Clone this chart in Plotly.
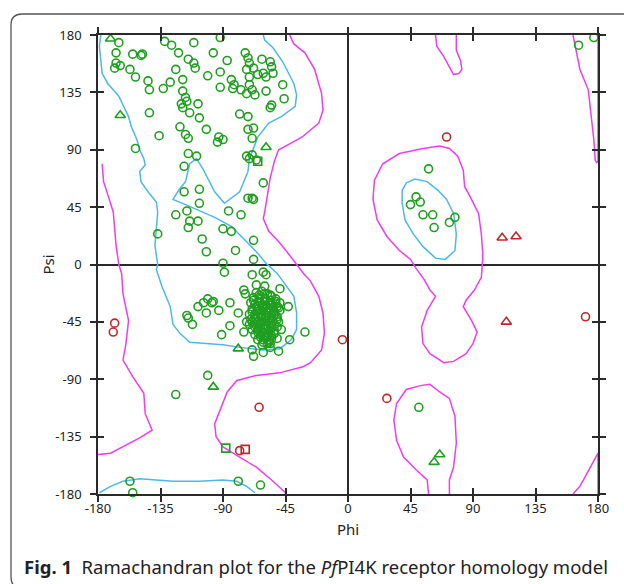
import plotly.graph_objects as go

# ---------------- data ----------------
tick_vals = [-180, -135, -90, -45, 0, 45, 90, 135, 180]
tick_text = ["-180", "-135", "-90", "-45", "0", "45", "90", "135", "180"]

# core region contours (light blue)
core_main_phi = [-61, -60, -54, -47, -39, -37, -38, -48, -57, -65, -67, -71, -72, -78, -89, -96, -104, -109,
                 -114, -117, -122, -126, -117, -105, -96, -84, -74, -66, -59, -51, -45, -39, -37, -37, -41,
                 -49, -61, -78, -90, -104, -114, -121, -126, -128, -134, -138, -137, -139, -138, -137, -138,
                 -144, -149, -150, -146, -147, -150, -152, -156, -158, -165, -173, -177, -179, -178]
core_main_psi = [180, 176, 170, 159, 142, 133, 124, 116, 111, 100, 94, 83, 73, 57, 48, 57, 74, 83,
                 79, 65, 58, 51, 47, 41, 37, 30, 19, 10, 1, -7, -16, -25, -38, -51, -59,
                 -66, -67, -65, -63, -62, -61, -54, -47, -33, -17, -4, 0, 15, 28, 41, 49,
                 57, 65, 73, 78, 83, 90, 98, 108, 116, 132, 142, 150, 171, 180]
core_bottom_phi = [-179, -171, -162, -150, -126, -107, -90, -80, -73, -67]
core_bottom_psi = [-179, -174, -170, -168, -170, -170, -169, -170, -174, -179]
core_right_phi = [42, 48, 57, 65, 71, 76, 78, 77, 70, 63, 54, 47, 41, 39, 39, 42]
core_right_psi = [64, 67, 65, 58, 51, 40, 24, 11, 4, 5, 14, 24, 35, 48, 58, 64]

# allowed region contours (magenta)
allow_main_phi = [-42, -39, -31, -24, -19, -18, -21, -33, -43, -50, -53, -56, -60, -61, -57, -50, -44, -38,
                  -32, -27, -21, -18, -17, -19, -27, -32, -49, -66, -80, -87, -92, -96, -95, -90, -78,
                  -66, -55, -45, -45]
allow_main_psi = [180, 173, 166, 153, 134, 121, 111, 100, 94, 90, 81, 68, 41, 36, 26, 18, 10, 1,
                  -7, -13, -25, -38, -54, -67, -77, -80, -85, -87, -91, -100, -114, -125, -135, -143, -151,
                  -159, -169, -179, -180]
allow_left_phi = [-177, -176, -173, -169, -168, -167, -165, -163, -162, -158, -160, -162, -155, -147, -146,
                  -141, -150, -162, -171, -180]
allow_left_psi = [79, 65, 55, 41, 28, 15, 0, -7, -23, -44, -63, -75, -88, -101, -117,
                  -130, -136, -143, -148, -149]
allow_top_phi = [63, 64, 69, 73, 76, 80, 82, 81, 78, 78]
allow_top_psi = [180, 171, 163, 155, 149, 150, 153, 160, 168, 180]
allow_bottom_phi = [58, 57, 49, 40, 35, 33, 35, 42, 52, 59, 66, 73, 77, 78, 76, 73, 73]
allow_bottom_psi = [-180, -169, -161, -151, -138, -122, -109, -98, -95, -94, -100, -105, -119, -140, -159, -169, -180]
allow_mid_phi = [66, 54, 37, 25, 19, 18, 21, 28, 37, 45, 49, 55, 59, 63, 57, 53, 54, 59, 69, 76, 85, 90,
                 93, 89, 83, 85, 91, 96, 97, 97, 96, 94, 88, 84, 83, 79, 73, 66]
allow_mid_psi = [93, 91, 87, 79, 66, 51, 35, 22, 11, 4, -3, -12, -20, -25, -36, -49, -62, -70, -77, -76, -70, -62,
                 -53, -44, -33, -28, -20, -10, 4, 9, 24, 40, 53, 61, 74, 85, 91, 93]
allow_rtop_phi = [162, 164, 167, 173, 175, 177, 178, 179, 180, 180]
allow_rtop_psi = [180, 168, 153, 137, 119, 98, 82, 80, 81, 180]
allow_rbot_phi = [162, 167, 172, 179, 180, 180]
allow_rbot_psi = [-180, -174, -164, -149, -148, -180]

# residues: green circles (favoured/allowed)
gc_phi = [-165, -167, -155, -149, -148, -167, -164, -168, -157, -153, -144, -143, -133, -128, -132, -127,
          -122, -111, -92, -97, -87, -115, -111, -110, -124, -119, -101, -92, -92, -84, -82, -74,
          -71, -68, -62, -56, -55, -61, -65, -59, -54, -71, -71, -69, -67, -73, -77, -83, -59, -47,
          -46, -55, -56, -72, -73,
          -119, -117, -116, -120, -119, -108, -114, -107, -143, -136, -121, -117, -115, -102, -93, -90,
          -94, -78, -72, -72, -68, -69, -153, -115, -109, -118, -73, -69, -71, -66, -61, -72, -69, -68,
          -118, -107, -107, -116, -124, -114, -115, -108, -137, -86, -77, -90, -84, -105, -102, -81,
          -68, -68, -90,
          -89, -69, -61, -59, -66, -60, -75, -74, -49, -101, -104, -97, -98, -108, -102, -116, -115,
          -112, -93, -85, -79, -85, -91, -75, -73, -69, -68, -61, -56, -50, -42, -31, -49, -43, -48,
          -51, -56, -101, -124, -157, -155, -79, -63,
          -66, -62, -58, -55, -68, -64, -60, -56, -52, -70, -67, -63, -59, -55, -51, -69, -65, -61,
          -57, -53, -49, -71, -67, -63, -59, -55, -51, -70, -66, -62, -58, -54, -50, -71, -67, -63,
          -59, -55, -51, -69, -65, -61, -57, -53, -67, -63, -59, -55, -65, -61, -57, -62, -58,
          166, 177, 58, 49, 45, 52, 54, 61, 62, 73, 77, 51]
gc_psi = [174, 166, 165, 164, 165, 158, 156, 154, 153, 147, 144, 137, 138, 143, 175, 172,
          166, 174, 178, 166, 160, 161, 158, 154, 153, 145, 148, 151, 139, 145, 141, 166,
          158, 154, 161, 159, 155, 150, 149, 147, 150, 147, 141, 137, 133, 134, 137, 138, 136, 141,
          130, 125, 123, 162, 153,
          136, 131, 128, 126, 123, 126, 119, 115, 119, 101, 108, 102, 99, 106, 100, 98,
          96, 118, 116, 106, 107, 99, 91, 87, 85, 77, 85, 86, 83, 82, 64, 52, 52, 51,
          57, 59, 48, 42, 39, 34, 29, 34, 24, 42, 39, 28, 26, 20, 10, 11,
          19, 4, 1,
          -6, -8, -6, -8, -16, -17, -20, -23, -19, -27, -30, -29, -30, -33, -38, -40, -42,
          -47, -36, -30, -38, -48, -55, -53, -45, -67, -72, -69, -65, -68, -59, -53, -30, -33, -51,
          -58, -62, -87, -102, -170, -179, -170, -173,
          -22, -21, -23, -25, -26, -26, -27, -28, -29, -30, -31, -30, -32, -32, -33, -35, -35, -34,
          -36, -37, -36, -39, -39, -38, -40, -40, -41, -43, -43, -42, -44, -44, -45, -47, -47, -46,
          -48, -48, -49, -51, -51, -50, -52, -52, -55, -55, -56, -56, -59, -59, -60, -63, -62,
          172, 178, 75, 53, 47, 49, 39, 39, 29, 33, 37, -112]
# dense alpha-helix cluster (second layer)
gc_core_phi = [-64, -60, -56, -52, -68, -64, -60, -56, -52, -66, -62, -58, -54, -50, -69, -65, -61, -57, -53,
               -67, -63, -59, -55, -51, -69, -65, -61, -57, -53, -67, -63, -59, -55, -65, -61, -57, -53,
               -63, -59, -55, -61, -57]
gc_core_psi = [-24, -23, -24, -27, -28, -29, -29, -30, -31, -33, -33, -34, -34, -34, -37, -37, -37, -38, -39,
               -41, -41, -42, -42, -43, -45, -45, -45, -46, -47, -49, -49, -50, -50, -53, -53, -54, -54,
               -57, -57, -58, -61, -61]
gt_phi = [-171, -164, -59, -79, -97, 62, 66]
gt_psi = [177, 117, 92, -66, -96, -155, -149]
gs_phi = [-65, -88]
gs_psi = [81, -144]
# outliers (red)
rc_phi = [71, -4, 171, 28, -168, -169, -64, -78]
rc_psi = [100, -59, -41, -105, -46, -53, -112, -146]
rt_phi = [111, 121, 114]
rt_psi = [21, 22, -45]
rs_phi = [-74]
rs_psi = [-145]

# ---------------- figure ----------------
CYAN = "#4cb8ec"
MAG = "#f03cf0"
GREEN = "#1f9e1f"
RED = "#c02828"

fig = go.Figure()


def add_line(px, py, color):
    fig.add_trace(go.Scatter(x=px, y=py, mode="lines", line=dict(color=color, width=1.5),
                             hoverinfo="skip", showlegend=False))


add_line(core_main_phi, core_main_psi, CYAN)
add_line(core_bottom_phi, core_bottom_psi, CYAN)
add_line(core_right_phi, core_right_psi, CYAN)
add_line(allow_main_phi, allow_main_psi, MAG)
add_line(allow_left_phi, allow_left_psi, MAG)
add_line(allow_top_phi, allow_top_psi, MAG)
add_line(allow_bottom_phi, allow_bottom_psi, MAG)
add_line(allow_mid_phi, allow_mid_psi, MAG)
add_line(allow_rtop_phi, allow_rtop_psi, MAG)
add_line(allow_rbot_phi, allow_rbot_psi, MAG)


def add_pts(px, py, symbol, color, size):
    fig.add_trace(go.Scatter(x=px, y=py, mode="markers", cliponaxis=False,
                             marker=dict(symbol=symbol, size=size, color=color,
                                         line=dict(color=color, width=1.6)),
                             showlegend=False))


add_pts(gc_phi, gc_psi, "circle-open", GREEN, 8)
add_pts(gc_core_phi, gc_core_psi, "circle-open", GREEN, 8)
add_pts(gt_phi, gt_psi, "triangle-up-open", GREEN, 9)
add_pts(gs_phi, gs_psi, "square-open", GREEN, 8)
add_pts(rc_phi, rc_psi, "circle-open", RED, 8)
add_pts(rt_phi, rt_psi, "triangle-up-open", RED, 9)
add_pts(rs_phi, rs_psi, "square-open", RED, 8)

# invisible trace for the overlay axes (inner half of the crossing ticks)
fig.add_trace(go.Scatter(x=[0], y=[0], xaxis="x2", yaxis="y2", mode="markers",
                         marker=dict(opacity=0), hoverinfo="skip", showlegend=False))

AX = "#2a2a2a"
TF = dict(family="Noto Sans", size=13, color="#222")
common = dict(range=[-180, 180], tickvals=tick_vals, ticktext=tick_text, showgrid=False, automargin=False)

fig.update_layout(
    width=624, height=584,
    margin=dict(l=98, r=26, t=35, b=90),
    paper_bgcolor="white", plot_bgcolor="white",
    xaxis=dict(**common, showline=True, linecolor=AX, linewidth=1.5, mirror="ticks",
               ticks="outside", ticklen=6, tickwidth=1.5, tickcolor=AX,
               zeroline=True, zerolinecolor=AX, zerolinewidth=1.5, tickfont=TF,
               ticklabelstandoff=-4),
    yaxis=dict(**common, showline=True, linecolor=AX, linewidth=1.5, mirror="ticks",
               ticks="outside", ticklen=6, tickwidth=1.5, tickcolor=AX,
               zeroline=True, zerolinecolor=AX, zerolinewidth=1.5, tickfont=TF,
               ticklabelstandoff=6),
    xaxis2=dict(**common, overlaying="x", matches="x", ticks="inside", ticklen=6, tickwidth=1.5,
                tickcolor=AX, mirror="ticks", showticklabels=False, showline=False, zeroline=False),
    yaxis2=dict(**common, overlaying="y", matches="y", ticks="inside", ticklen=6, tickwidth=1.5,
                tickcolor=AX, mirror="ticks", showticklabels=False, showline=False, zeroline=False),
)

# axis titles
fig.add_annotation(x=0.5, y=-0.077, xref="paper", yref="paper", xanchor="center", yanchor="middle",
                   showarrow=False, text="Phi", font=dict(family="Noto Sans", size=15, color="#222"))
fig.add_annotation(x=-0.102, y=0.5, xref="paper", yref="paper", xanchor="center", yanchor="middle",
                   showarrow=False, text="Psi", textangle=-90,
                   font=dict(family="Noto Sans", size=15, color="#222"))

# rounded frame around the figure (paper coords relative to plot area)
x0, x1, y0, y1 = -0.174, 1.10, -0.205, 1.0458
rx, ry = 0.022, 0.024
path = (f"M {x0+rx},{y1} L {x1},{y1} M {x0+rx},{y1} Q {x0},{y1} {x0},{y1-ry} "
        f"L {x0},{y0+ry} Q {x0},{y0} {x0+rx},{y0}")
fig.add_shape(type="path", path=path, xref="paper", yref="paper",
              line=dict(color="#555", width=1.3))

fig.add_annotation(
    x=-0.152, y=-0.158, xref="paper", yref="paper", xanchor="left", yanchor="middle",
    showarrow=False, align="left",
    text="<b>Fig. 1</b>  Ramachandran plot for the <i>Pf</i>PI4K receptor homology model",
    font=dict(family="Noto Sans", size=18.5, color="#222"))

fig.write_html("out.html", config={"displayModeBar": False},
               post_script="document.body.style.margin='0';")
